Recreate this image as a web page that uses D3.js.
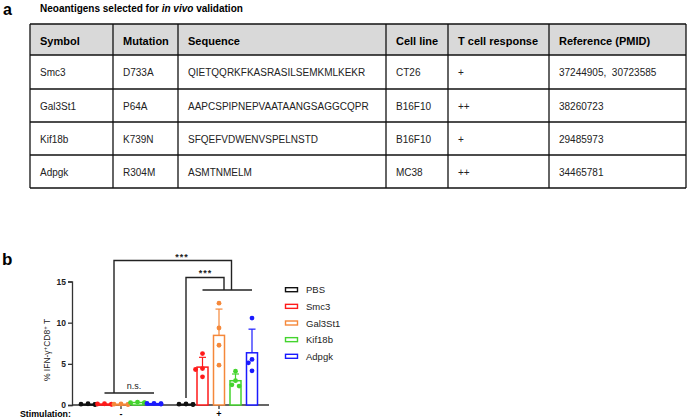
<!DOCTYPE html>
<html>
<head>
<meta charset="utf-8">
<script src="https://cdn.jsdelivr.net/npm/d3@7"></script>
<style>
  body { margin: 0; background: #fff; }
  svg { display: block; font-family: "Liberation Sans", Arial, sans-serif; }
</style>
</head>
<body>
<div id="chart"></div>
<script>
// ---- table data (panel a) ----
var tableHeader = ["Symbol", "Mutation", "Sequence", "Cell line", "T cell response", "Reference (PMID)"];
var tableRows = [
    ["Smc3", "D733A", "QIETQQRKFKASRASILSEMKMLKEKR", "CT26", "+", "37244905,  30723585"],
    ["Gal3St1", "P64A", "AAPCSPIPNEPVAATAANGSAGGCQPR", "B16F10", "++", "38260723"],
    ["Kif18b", "K739N", "SFQEFVDWENVSPELNSTD", "B16F10", "+", "29485973"],
    ["Adpgk", "R304M", "ASMTNMELM", "MC38", "++", "34465781"]
];

// ---- chart data (panel b) ----
var stimulations = ["-", "+"];
var groups = ["PBS", "Smc3", "Gal3St1", "Kif18b", "Adpgk"];
var groupColors = ["#111111", "#ff1a1a", "#f5883a", "#44d42e", "#1a1aff"];
// replicate values, % IFN-g+ CD8+ T
var valuesMinus = [
    [0.05, 0.15, 0.10, 0.08],
    [0.10, 0.15, 0.12, 0.08],
    [0.05, 0.10, 0.12, 0.08],
    [0.30, 0.35, 0.25, 0.30],
    [0.15, 0.20, 0.18, 0.12]
];
var valuesPlus = [
    [0.05, 0.10, 0.08, 0.12],
    [6.25, 4.43, 4.31, 3.42],
    [12.37, 9.35, 7.26, 4.84],
    [4.10, 2.95, 2.30, 2.45],
    [10.56, 5.53, 5.12, 4.15]
];
var yTicks = [0, 5, 10, 15];

var W = 700, H = 420;
var svg = d3.select("#chart").append("svg").attr("width", W).attr("height", H);

/* ---------- panel a : table ---------- */
svg.append("text").attr("x", 3).attr("y", 15)
    .style("font-size", "16px").style("font-weight", "bold").text("a");
var title = svg.append("text").attr("x", 40).attr("y", 12)
    .style("font-size", "10px").style("font-weight", "bold");
title.append("tspan").text("Neoantigens selected for ");
title.append("tspan").style("font-style", "italic").text("in vivo");
title.append("tspan").text(" validation");

var colEdges = [30, 113, 178, 386, 448, 549, 686];
var rowEdges = [24, 55, 89, 122, 155, 188];
var tbl = svg.append("g").attr("class", "table");

tbl.append("rect")
    .attr("x", colEdges[0]).attr("y", rowEdges[0])
    .attr("width", colEdges[colEdges.length - 1] - colEdges[0])
    .attr("height", rowEdges[1] - rowEdges[0])
    .attr("fill", "#d9d9d9");

// header text
tbl.selectAll("text.head")
    .data(tableHeader)
    .enter().append("text")
    .attr("class", "head")
    .attr("x", function (d, i) { return colEdges[i] + 10; })
    .attr("y", (rowEdges[0] + rowEdges[1]) / 2 + 1.5)
    .attr("dominant-baseline", "central")
    .style("font-size", "11px").style("font-weight", "bold")
    .text(function (d) { return d; });

// body text
tableRows.forEach(function (row, r) {
    tbl.selectAll("text.r" + r)
        .data(row)
        .enter().append("text")
        .attr("class", "r" + r)
        .attr("x", function (d, i) { return colEdges[i] + 10; })
        .attr("y", (rowEdges[r + 1] + rowEdges[r + 2]) / 2 + 0.5)
        .attr("dominant-baseline", "central")
        .style("font-size", "10px").style("fill", "#222")
        .style("white-space", "pre")
        .text(function (d) { return d; });
});

// grid lines
tbl.selectAll("line.h")
    .data(rowEdges)
    .enter().append("line")
    .attr("x1", colEdges[0]).attr("x2", colEdges[colEdges.length - 1])
    .attr("y1", function (d) { return d; }).attr("y2", function (d) { return d; })
    .attr("stroke", "#111").attr("stroke-width", 1.3);
tbl.selectAll("line.v")
    .data(colEdges)
    .enter().append("line")
    .attr("y1", rowEdges[0]).attr("y2", rowEdges[rowEdges.length - 1])
    .attr("x1", function (d) { return d; }).attr("x2", function (d) { return d; })
    .attr("stroke", "#111").attr("stroke-width", 1.3);

/* ---------- panel b : bar chart ---------- */
svg.append("text").attr("x", 2).attr("y", 265)
    .style("font-size", "17px").style("font-weight", "bold").text("b");

var y = d3.scaleLinear().domain([0, 15]).range([405, 281.5]);
var x0 = d3.scalePoint().domain(stimulations).range([121, 219]);
var x1 = d3.scalePoint().domain(groups).range([-33, 33]);
var barW = 11, dotR = 2.4, axisColor = "#333";

function mean(a) { return d3.mean(a); }
function sd(a) { return d3.deviation(a); }

var chart = svg.append("g");

// y axis
var yAxis = chart.append("g")
    .attr("transform", "translate(72,0)")
    .call(d3.axisLeft(y).tickValues(yTicks).tickSize(4).tickPadding(2));
yAxis.select(".domain").attr("stroke", axisColor).attr("stroke-width", 1.3);
yAxis.selectAll(".tick line").attr("stroke", axisColor).attr("stroke-width", 1.3);
yAxis.selectAll("text").style("font-size", "8.5px").style("font-weight", "bold")
    .style("font-family", "'Liberation Sans', Arial, sans-serif").attr("fill", "#222");

// x axis
chart.append("line")
    .attr("x1", 72).attr("x2", 269).attr("y1", y(0)).attr("y2", y(0))
    .attr("stroke", axisColor).attr("stroke-width", 1.3);
chart.selectAll("line.xt")
    .data(stimulations)
    .enter().append("line")
    .attr("x1", function (d) { return x0(d); }).attr("x2", function (d) { return x0(d); })
    .attr("y1", y(0)).attr("y2", y(0) + 4)
    .attr("stroke", axisColor).attr("stroke-width", 1.3);
chart.selectAll("text.xt")
    .data(stimulations)
    .enter().append("text")
    .attr("x", function (d) { return x0(d); })
    .attr("y", 417)
    .attr("text-anchor", "middle")
    .style("font-size", "9px").style("font-weight", "bold")
    .text(function (d) { return d; });
chart.append("text").attr("x", 20).attr("y", 417)
    .style("font-size", "8.8px").style("font-weight", "bold").text("Stimulation:");

// y label
var yl = chart.append("text")
    .attr("transform", "translate(50,350) rotate(-90)")
    .attr("text-anchor", "middle")
    .style("font-size", "8.5px").attr("fill", "#222");
yl.append("tspan").text("% IFN-\u03b3");
yl.append("tspan").attr("baseline-shift", "super").style("font-size", "6px").text("+");
yl.append("tspan").text("CD8");
yl.append("tspan").attr("baseline-shift", "super").style("font-size", "6px").text("+");
yl.append("tspan").text(" T");

// build bar records
var bars = [];
stimulations.forEach(function (s, si) {
    var vals = si === 0 ? valuesMinus : valuesPlus;
    groups.forEach(function (g, gi) {
        bars.push({ stim: s, group: g, color: groupColors[gi], values: vals[gi] });
    });
});

// simple beeswarm offsets
function swarm(values, cx) {
    var placed = [];
    var order = values.map(function (v, i) { return i; })
        .sort(function (a, b) { return values[b] - values[a]; });
    var out = [];
    order.forEach(function (i) {
        var py = y(values[i]);
        var offs = [0, -3.6, 3.6, -7, 7];
        for (var k = 0; k < offs.length; k++) {
            var px = cx + offs[k];
            var ok = placed.every(function (p) {
                return Math.hypot(p[0] - px, p[1] - py) >= dotR * 2 - 0.3;
            });
            if (ok || k === offs.length - 1) { placed.push([px, py]); out.push([px, py]); break; }
        }
    });
    return out;
}

var barG = chart.selectAll("g.bar")
    .data(bars)
    .enter().append("g")
    .attr("class", "bar");

barG.each(function (d) {
    var g = d3.select(this);
    var cx = x0(d.stim) + x1(d.group);
    var m = mean(d.values), s = sd(d.values);
    g.append("rect")
        .attr("x", cx - barW / 2).attr("y", y(m))
        .attr("width", barW).attr("height", y(0) - y(m))
        .attr("fill", "#fff").attr("stroke", d.color).attr("stroke-width", 1.5);
    if (m > 1) {
        g.append("line")
            .attr("x1", cx).attr("x2", cx).attr("y1", y(m)).attr("y2", y(m + s))
            .attr("stroke", d.color).attr("stroke-width", 1.2);
        g.append("line")
            .attr("x1", cx - 3.5).attr("x2", cx + 3.5).attr("y1", y(m + s)).attr("y2", y(m + s))
            .attr("stroke", d.color).attr("stroke-width", 1.2);
    }
    g.selectAll("circle")
        .data(swarm(d.values, cx))
        .enter().append("circle")
        .attr("cx", function (p) { return p[0]; })
        .attr("cy", function (p) { return p[1]; })
        .attr("r", dotR)
        .attr("fill", d.color);
});

// significance brackets
var bk = chart.append("g").attr("fill", "none").attr("stroke", "#222").attr("stroke-width", 1.4);
var xm = function (g) { return x0("-") + x1(g); };
var xp = function (g) { return x0("+") + x1(g); };
// n.s. line across minus group
bk.append("line").attr("x1", xm("Smc3")).attr("x2", xm("Adpgk")).attr("y1", 393).attr("y2", 393);
// line across plus group
bk.append("line").attr("x1", xp("Smc3")).attr("x2", xp("Adpgk")).attr("y1", 290).attr("y2", 290);
// inner bracket: PBS+ vs neoantigens+
bk.append("path").attr("d", d3.line()([[xp("PBS"), 398], [xp("PBS"), 277.5], [224, 277.5], [224, 290]]));
// outer bracket: minus vs plus
bk.append("path").attr("d", d3.line()([[114, 393], [114, 260.5], [231.5, 260.5], [231.5, 290]]));

chart.append("text").attr("x", 134).attr("y", 389).attr("text-anchor", "middle")
    .style("font-size", "9px").attr("fill", "#222").text("n.s.");
chart.append("text").attr("x", 205.5).attr("y", 276).attr("text-anchor", "middle")
    .style("font-size", "9px").style("font-weight", "bold").style("letter-spacing", "1px")
    .attr("fill", "#222").text("***");
chart.append("text").attr("x", 182).attr("y", 259.5).attr("text-anchor", "middle")
    .style("font-size", "9px").style("font-weight", "bold").style("letter-spacing", "1px")
    .attr("fill", "#222").text("***");

// legend
var legend = chart.selectAll("g.leg")
    .data(groups)
    .enter().append("g")
    .attr("class", "leg")
    .attr("transform", function (d, i) { return "translate(285," + (289.7 + i * 16.65) + ")"; });
legend.append("rect")
    .attr("x", 0.5).attr("y", -2).attr("width", 12).attr("height", 4)
    .attr("fill", "#fff")
    .attr("stroke", function (d, i) { return groupColors[i]; })
    .attr("stroke-width", 1.4);
legend.append("text")
    .attr("x", 21).attr("y", 0).attr("dominant-baseline", "central")
    .style("font-size", "9.5px").attr("fill", "#222")
    .text(function (d) { return d; });
</script>
</body>
</html>
